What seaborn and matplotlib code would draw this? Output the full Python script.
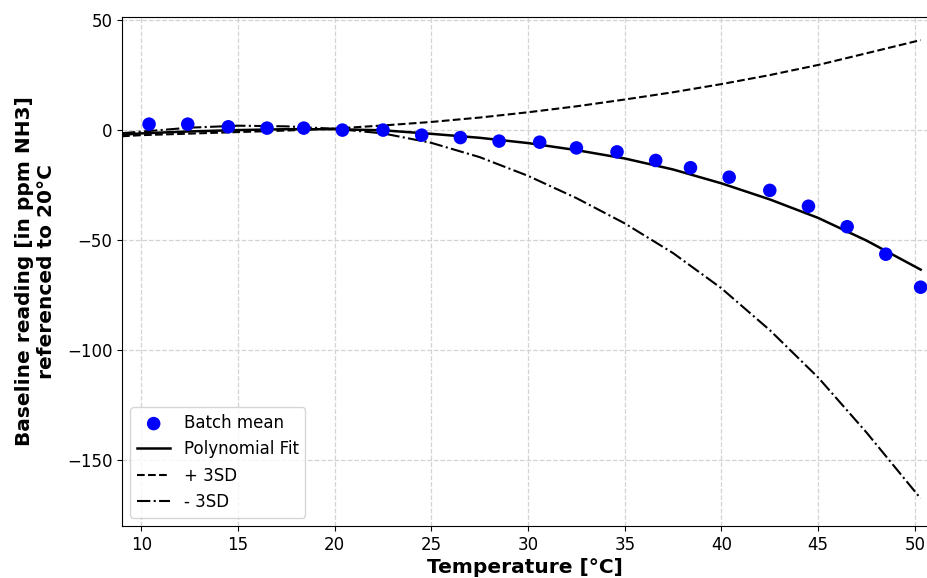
import matplotlib
matplotlib.use("Agg")
import matplotlib.pyplot as plt
import seaborn as sns
import pandas as pd

# batch means
temp = [10.4, 12.4, 14.5, 16.5, 18.4, 20.4, 22.5, 24.5, 26.5, 28.5, 30.6,
        32.5, 34.6, 36.6, 38.4, 40.4, 42.5, 44.5, 46.5, 48.5, 50.3]
batch_mean = [2.6, 2.6, 1.4, 0.8, 0.8, -0.1, -0.1, -2.4, -3.5, -5.1, -5.6,
              -8.2, -10.0, -13.9, -17.2, -21.5, -27.5, -34.7, -44.0, -56.5, -71.5]

# curves, read at these temperatures
curve_t = [9, 10, 12.5, 15, 17.5, 20, 22.5, 25, 27.5, 30, 32.5, 35, 37.5,
           40, 42.5, 45, 47.5, 50.3]
fit = [-2.2, -1.6, -0.7, -0.1, 0.3, 0.3, -0.2, -1.8, -3.6, -6.0, -9.2, -13.0,
       -18.0, -24.3, -31.6, -40.0, -50.3, -63.5]
plus_3sd = [-2.9, -2.4, -1.7, -1.0, -0.3, 0.6, 2.0, 3.6, 5.6, 8.0, 10.7, 13.8,
            17.1, 20.8, 24.9, 29.5, 34.8, 40.8]
minus_3sd = [-1.5, -0.8, 1.0, 1.9, 1.6, 0.5, -1.6, -5.9, -12.4, -20.9, -31.0,
             -42.5, -56.0, -72.0, -91.0, -112.5, -137.5, -167.5]

pts = pd.DataFrame({"T": temp, "y": batch_mean})
curves = pd.DataFrame({"T": curve_t, "fit": fit, "plus": plus_3sd, "minus": minus_3sd})

fig = plt.figure(figsize=(9.27, 5.78), dpi=100)
ax = fig.add_axes([0.1316, 0.090, 0.8684, 0.881])

sns.scatterplot(data=pts, x="T", y="y", ax=ax, color="blue", s=95,
                edgecolor="none", label="Batch mean", zorder=3)
sns.lineplot(data=curves, x="T", y="fit", ax=ax, color="black", lw=1.8,
             label="Polynomial Fit", sort=False, estimator=None)
sns.lineplot(data=curves, x="T", y="plus", ax=ax, color="black", lw=1.5,
             linestyle="--", label="+ 3SD", sort=False, estimator=None)
sns.lineplot(data=curves, x="T", y="minus", ax=ax, color="black", lw=1.5,
             linestyle="-.", label="- 3SD", sort=False, estimator=None)

ax.set_xlim(9.0, 50.63)
ax.set_ylim(-180, 51.4)
ax.set_yticks([50, 0, -50, -100, -150])
ax.set_xticks([10, 15, 20, 25, 30, 35, 40, 45, 50])
ax.grid(True, linestyle="--", color="#d3d3d3", lw=0.9)
ax.set_axisbelow(True)
ax.spines["right"].set_visible(False)
ax.tick_params(labelsize=12)

ax.set_xlabel("Temperature [°C]", fontsize=14.5, fontweight="bold", labelpad=3)
ax.set_ylabel("Baseline reading [in ppm NH3]\nreferenced to 20°C",
              fontsize=14.5, fontweight="bold", labelpad=8)

h, l = ax.get_legend_handles_labels()
order = [l.index(n) for n in ["Batch mean", "Polynomial Fit", "+ 3SD", "- 3SD"]]
ax.legend([h[i] for i in order], [l[i] for i in order], loc="lower left",
          fontsize=12, scatterpoints=1)

fig.savefig("out.png", dpi=100)
